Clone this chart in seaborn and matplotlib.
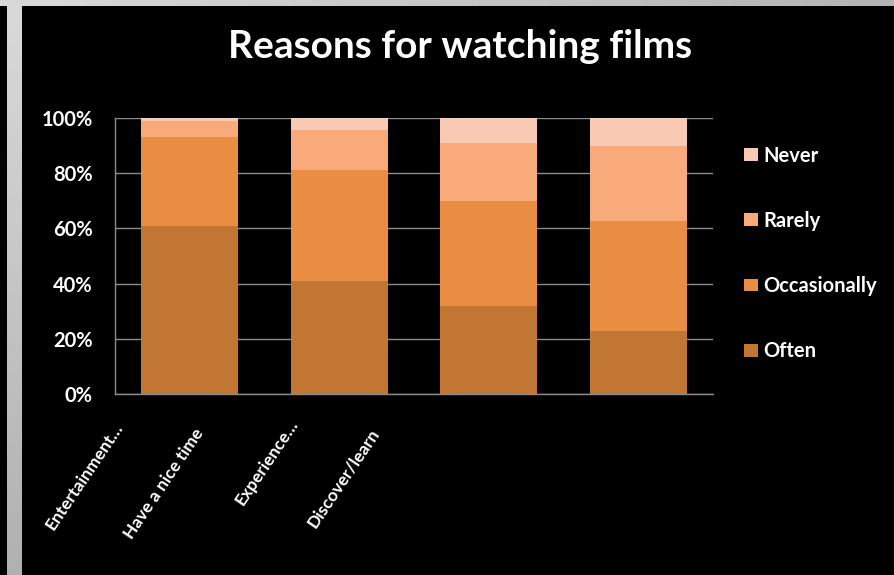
import numpy as np
import pandas as pd
import matplotlib
matplotlib.use("Agg")
import matplotlib.pyplot as plt
import seaborn as sns

# ---- data ----
categories = ["Entertainment…", "Have a nice time", "Experience…", "Discover/learn"]
often = [61, 41, 32, 23]
occasionally = [32, 40, 38, 39.5]
rarely = [6, 14.5, 21, 27.5]
never = [1, 4.5, 9, 10]
series_names = ["Often", "Occasionally", "Rarely", "Never"]
ytick_values = [0, 20, 40, 60, 80, 100]
ytick_labels = ["0%", "20%", "40%", "60%", "80%", "100%"]
title = "Reasons for watching films"

colors = {"Often": "#C27634", "Occasionally": "#E88D41",
          "Rarely": "#F8AA7A", "Never": "#F9CAB3"}

sns.set_theme(style="white")
plt.rcParams["font.family"] = ["Lato", "DejaVu Sans"]

W, H = 894, 575
fig = plt.figure(figsize=(W / 100, H / 100), dpi=100)
fig.patch.set_facecolor("black")

# gray frame (top band & left strip) with gradients
top = fig.add_axes([0, 1 - 6 / H, 1, 6 / H])
top.imshow(np.linspace(0.85, 0.70, 256)[None, :], cmap="gray", vmin=0, vmax=1,
           aspect="auto", extent=[0, 1, 0, 1])
top.axis("off")
left = fig.add_axes([7 / W, 0, 15 / W, 1 - 6 / H])
left.imshow(np.linspace(0.85, 0.69, 256)[:, None], cmap="gray", vmin=0, vmax=1,
            aspect="auto", extent=[0, 1, 0, 1])
left.axis("off")

ax = fig.add_axes([115 / W, 1 - 394 / H, 598 / W, 276 / H])
ax.set_facecolor("black")

df = pd.DataFrame({"category": categories, "Often": often,
                   "Occasionally": occasionally, "Rarely": rarely, "Never": never})
cum = df[series_names].cumsum(axis=1)

for name in reversed(series_names):
    sns.barplot(x=df["category"], y=cum[name], color=colors[name], saturation=1,
                width=0.65, ax=ax, label=name, zorder=3,
                edgecolor="none", linewidth=0)

ax.set_xlim(-0.5, 3.5)
ax.set_ylim(0, 100)
ax.set_yticks(ytick_values)
ax.set_yticklabels(ytick_labels, color="white", fontsize=14.5, fontweight="bold")
ax.tick_params(axis="y", length=0, pad=16)
ax.set_xticks(range(len(categories)))
ax.set_xticklabels([])
ax.tick_params(axis="x", length=0)
ax.set_xlabel("")
ax.set_ylabel("")
ax.set_axisbelow(True)
ax.yaxis.grid(True, color="#8c8c8c", linewidth=1.0)
ax.xaxis.grid(False)
for side in ["top", "right"]:
    ax.spines[side].set_visible(False)
for side in ["left", "bottom"]:
    ax.spines[side].set_color("#8c8c8c")
    ax.spines[side].set_linewidth(1.0)

# rotated category labels
label_anchor_px = [(120, 424), (200, 430), (295, 421), (376, 430)]
for lab, (px, py) in zip(categories, label_anchor_px):
    fig.text(px / W, 1 - py / H, lab, rotation=56, rotation_mode="anchor",
             ha="right", va="center", color="white", fontsize=12.5,
             fontweight="bold")

fig.text(460 / W, 1 - 47 / H, title, ha="center", va="center",
         color="white", fontsize=28, fontweight="bold")

leg = ax.legend(loc="center left", bbox_to_anchor=(744 / W, 1 - 253.5 / H),
                bbox_transform=fig.transFigure, frameon=False,
                prop={"size": 14.5, "weight": "bold"},
                handlelength=0.69, handleheight=0.6, handletextpad=0.25,
                labelspacing=2.25, borderpad=0, borderaxespad=0)
for t in leg.get_texts():
    t.set_color("white")

fig.savefig("out.png", dpi=100, facecolor="black")
